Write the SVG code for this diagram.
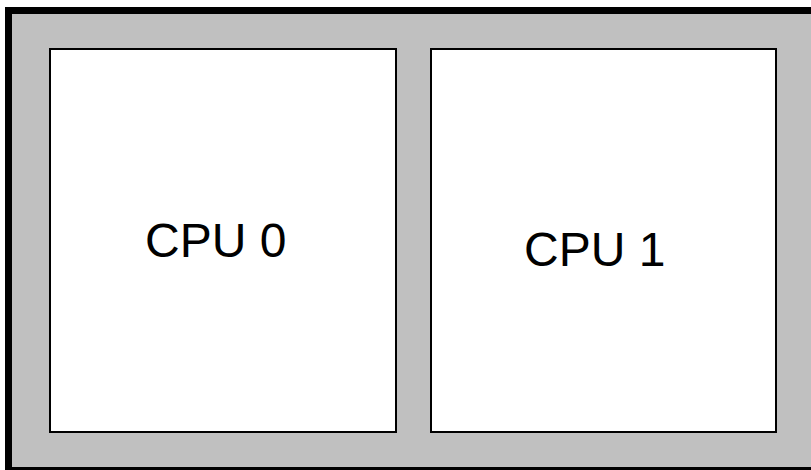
<svg xmlns="http://www.w3.org/2000/svg" width="811" height="470" viewBox="0 0 811 470">
<style>
.box{fill:#ffffff;stroke:#000000;stroke-width:2}
.lbl{font-family:"Liberation Sans",Arial,sans-serif;font-size:48px;fill:#000000}
</style>
<rect width="811" height="470" fill="#ffffff"/>
<g id="package">
<rect x="8.5" y="10.5" width="810" height="460" fill="#c0c0c0" stroke="#000000" stroke-width="7"/>
</g>
<g id="cpu0">
<rect class="box" x="50" y="49" width="346" height="383"/>
<text class="lbl" x="145" y="257">CPU 0</text>
</g>
<g id="cpu1">
<rect class="box" x="431" y="49" width="345" height="383"/>
<text class="lbl" x="524" y="266">CPU 1</text>
</g>
<g id="connectors"></g>
</svg>
